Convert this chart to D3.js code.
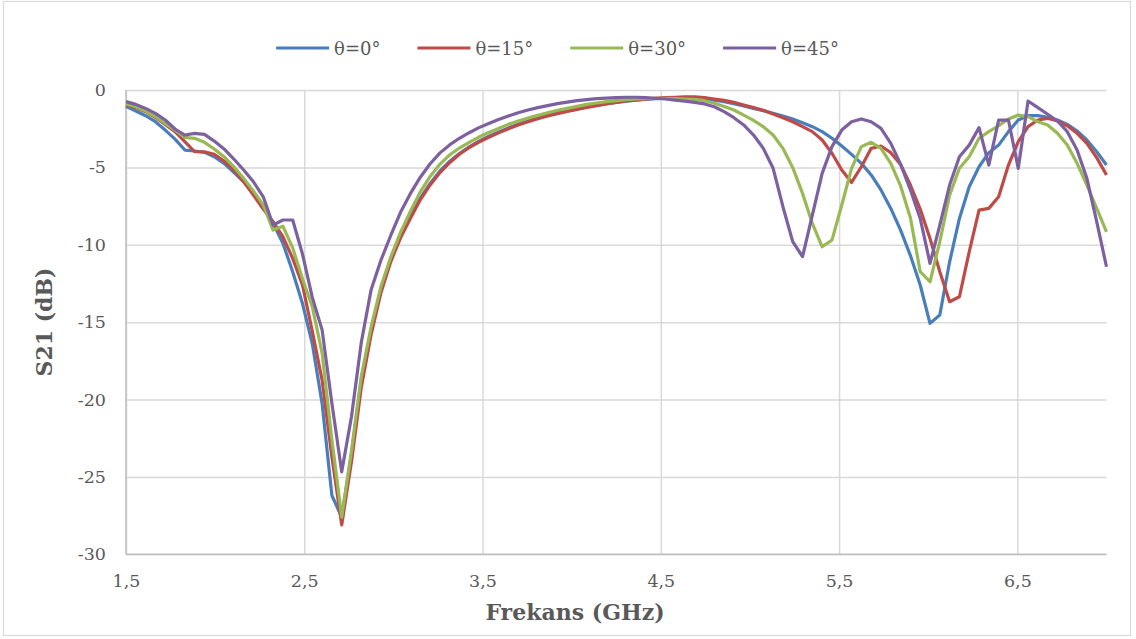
<!DOCTYPE html>
<html><head><meta charset="utf-8">
<script src="https://cdn.jsdelivr.net/npm/d3@7"></script>
<style>body{margin:0;background:#fff}svg{display:block}</style>
</head><body>
<script>
const freq = [1.5,1.555,1.61,1.665,1.72,1.775,1.83,1.885,1.94,1.995,2.05,2.105,2.16,2.215,2.27,2.325,2.38,2.435,2.49,2.545,2.6,2.655,2.71,2.765,2.82,2.875,2.93,2.985,3.04,3.095,3.15,3.205,3.26,3.315,3.37,3.425,3.48,3.535,3.59,3.645,3.7,3.755,3.81,3.865,3.92,3.975,4.03,4.085,4.14,4.195,4.25,4.305,4.36,4.415,4.47,4.525,4.58,4.635,4.69,4.745,4.8,4.855,4.91,4.965,5.02,5.075,5.13,5.185,5.24,5.295,5.35,5.405,5.46,5.515,5.57,5.625,5.68,5.735,5.79,5.845,5.9,5.955,6.01,6.065,6.12,6.175,6.23,6.285,6.34,6.395,6.45,6.505,6.56,6.615,6.67,6.725,6.78,6.835,6.89,6.945,7.0];
const theta0 = [-1.05,-1.36,-1.66,-2.05,-2.59,-3.17,-3.88,-3.94,-4.03,-4.31,-4.74,-5.32,-5.93,-6.68,-7.54,-8.62,-9.9,-11.74,-13.8,-16.4,-20.25,-26.2,-27.6,-23.5,-18.7,-15.5,-12.9,-10.9,-9.4,-8.2,-7.0,-6.05,-5.25,-4.62,-4.1,-3.67,-3.3,-2.99,-2.71,-2.45,-2.21,-2.0,-1.81,-1.64,-1.49,-1.35,-1.22,-1.1,-0.99,-0.89,-0.8,-0.72,-0.66,-0.6,-0.56,-0.52,-0.5,-0.49,-0.49,-0.56,-0.65,-0.75,-0.88,-1.03,-1.19,-1.34,-1.51,-1.68,-1.87,-2.11,-2.37,-2.69,-3.12,-3.62,-4.16,-4.74,-5.49,-6.46,-7.65,-9.05,-10.7,-12.6,-15.08,-14.54,-11.1,-8.3,-6.25,-4.96,-4.05,-3.56,-2.69,-1.94,-1.66,-1.66,-1.77,-1.94,-2.22,-2.65,-3.23,-3.99,-4.85];
const theta15 = [-0.95,-1.14,-1.4,-1.77,-2.22,-2.69,-3.34,-3.99,-3.99,-4.16,-4.59,-5.17,-5.93,-6.79,-7.69,-8.51,-9.48,-10.88,-12.6,-15.6,-18.75,-23.7,-28.1,-24.0,-19.2,-15.8,-13.1,-11.1,-9.55,-8.3,-7.11,-6.15,-5.35,-4.7,-4.15,-3.72,-3.36,-3.05,-2.77,-2.5,-2.26,-2.05,-1.85,-1.68,-1.53,-1.38,-1.25,-1.12,-1.01,-0.9,-0.8,-0.71,-0.65,-0.58,-0.54,-0.49,-0.47,-0.45,-0.44,-0.49,-0.58,-0.67,-0.8,-0.97,-1.14,-1.31,-1.55,-1.79,-2.05,-2.37,-2.69,-3.23,-4.09,-5.17,-5.97,-4.96,-3.77,-3.62,-4.05,-4.81,-6.14,-7.69,-9.59,-11.74,-13.68,-13.36,-10.45,-7.76,-7.65,-6.9,-4.85,-3.34,-2.37,-1.94,-1.83,-2.0,-2.31,-2.8,-3.45,-4.37,-5.49];
const theta30 = [-0.9,-1.08,-1.36,-1.72,-2.16,-2.59,-3.06,-3.12,-3.38,-3.81,-4.31,-4.96,-5.71,-6.53,-7.43,-9.05,-8.8,-10.2,-12.2,-14.0,-17.0,-22.6,-27.6,-23.3,-18.5,-15.3,-12.7,-10.8,-9.2,-7.85,-6.6,-5.6,-4.8,-4.2,-3.75,-3.38,-3.04,-2.74,-2.48,-2.22,-2.0,-1.81,-1.64,-1.47,-1.31,-1.19,-1.06,-0.93,-0.84,-0.75,-0.69,-0.62,-0.58,-0.56,-0.54,-0.54,-0.56,-0.58,-0.6,-0.69,-0.86,-1.06,-1.29,-1.62,-1.96,-2.37,-2.91,-3.77,-5.02,-6.68,-8.62,-10.13,-9.7,-7.43,-5.06,-3.66,-3.38,-3.77,-4.74,-6.2,-8.25,-11.74,-12.39,-9.8,-6.79,-5.06,-4.31,-3.12,-2.69,-2.31,-1.87,-1.62,-1.72,-2.05,-2.26,-2.8,-3.56,-4.74,-6.14,-7.65,-9.16];
const theta45 = [-0.75,-0.93,-1.19,-1.51,-1.94,-2.52,-2.91,-2.8,-2.87,-3.3,-3.81,-4.46,-5.17,-5.93,-6.9,-8.73,-8.4,-8.4,-10.6,-13.4,-15.5,-20.25,-24.67,-21.1,-16.3,-12.9,-11.0,-9.4,-7.9,-6.7,-5.65,-4.78,-4.08,-3.55,-3.12,-2.76,-2.43,-2.16,-1.9,-1.68,-1.47,-1.29,-1.14,-1.01,-0.88,-0.78,-0.69,-0.62,-0.56,-0.52,-0.49,-0.47,-0.47,-0.49,-0.54,-0.58,-0.65,-0.72,-0.8,-0.9,-1.08,-1.4,-1.79,-2.26,-2.91,-3.77,-5.06,-7.54,-9.8,-10.77,-8.08,-5.39,-3.66,-2.59,-2.05,-1.87,-2.05,-2.48,-3.45,-4.8,-6.45,-8.3,-11.2,-8.73,-6.14,-4.31,-3.56,-2.43,-4.85,-1.94,-1.94,-5.06,-0.71,-1.14,-1.57,-2.0,-2.69,-3.88,-5.71,-8.51,-11.42];
const seriesNames = ["θ=0°","θ=15°","θ=30°","θ=45°"];
const seriesColors = ["#4a7ebb","#be4b48","#98b954","#7d60a0"];
const xTicks = [1.5,2.5,3.5,4.5,5.5,6.5];
const xTickLabels = ["1,5","2,5","3,5","4,5","5,5","6,5"];
const yTicks = [0,-5,-10,-15,-20,-25,-30];
const yTickLabels = ["0","-5","-10","-15","-20","-25","-30"];
const xTitle = "Frekans (GHz)";
const yTitle = "S21 (dB)";

const W = 1136, H = 639;
const FONT = "'DejaVu Serif', serif";
const svg = d3.select("body").append("svg").attr("width", W).attr("height", H);
svg.append("rect").attr("x",3.5).attr("y",1.5).attr("width",1127).attr("height",634)
  .attr("fill","#fff").attr("stroke","#d9d9d9").attr("stroke-width",1.2);

const x = d3.scaleLinear().domain([1.5, 7.0]).range([126, 1106.5]);
const y = d3.scaleLinear().domain([-30, 0]).range([554.3, 90]);

const gy = svg.append("g").attr("transform", `translate(${x.range()[0]},0)`)
  .call(d3.axisLeft(y).tickValues(yTicks).tickSize(-(x.range()[1]-x.range()[0])).tickFormat((d,i)=>yTickLabels[i]).tickPadding(20));
gy.select(".domain").remove();
gy.selectAll(".tick line").attr("stroke","#d9d9d9").attr("stroke-width",1.5);
gy.selectAll(".tick text").attr("fill","#595959").style("font-family",FONT).style("font-size","17.5px");

const gx = svg.append("g").attr("transform", `translate(0,${y(-30)})`)
  .call(d3.axisBottom(x).tickValues(xTicks).tickSize(-(y(-30)-y(0))).tickFormat((d,i)=>xTickLabels[i]).tickPadding(20));
gx.select(".domain").remove();
gx.selectAll(".tick line").attr("stroke","#d9d9d9").attr("stroke-width",1.5);
gx.selectAll(".tick text").attr("fill","#595959").style("font-family",FONT).style("font-size","17.5px");

svg.append("line").attr("x1",x(1.5)).attr("x2",x(1.5)).attr("y1",y(0)).attr("y2",y(-30)).attr("stroke","#bfbfbf").attr("stroke-width",1.5);
svg.append("line").attr("x1",x(1.5)).attr("x2",x(7.0)).attr("y1",y(-30)).attr("y2",y(-30)).attr("stroke","#bfbfbf").attr("stroke-width",1.5);

const allSeries = [theta0, theta15, theta30, theta45];
const line = d3.line().x((d,i)=>x(freq[i])).y(d=>y(d));
allSeries.forEach((s,k)=>{
  svg.append("path").datum(s).attr("d",line).attr("fill","none")
    .attr("stroke",seriesColors[k]).attr("stroke-width",3.2).attr("stroke-linejoin","round");
});

svg.append("text").attr("x",575).attr("y",620).attr("text-anchor","middle")
  .attr("fill","#595959").style("font-family",FONT).style("font-weight","bold").style("font-size","22px").text(xTitle);
svg.append("text").attr("transform","translate(52,322) rotate(-90)").attr("text-anchor","middle")
  .attr("fill","#595959").style("font-family",FONT).style("font-weight","bold").style("font-size","22px").text(yTitle);

const lg = svg.append("g");
let cx = 0;
seriesNames.forEach((n,k)=>{
  const g = lg.append("g").attr("transform",`translate(${cx},0)`);
  g.append("line").attr("x1",0).attr("x2",53).attr("y1",48).attr("y2",48).attr("stroke",seriesColors[k]).attr("stroke-width",3.2);
  const t = g.append("text").attr("x",58).attr("y",54.5).attr("fill","#595959")
    .style("font-family",FONT).style("font-size","18px").text(n);
  const w = t.node().getComputedTextLength();
  cx += 58 + w + 37;
});
const totalW = cx - 37;
lg.attr("transform",`translate(${557.5 - totalW/2},0)`);
</script>
</body></html>
